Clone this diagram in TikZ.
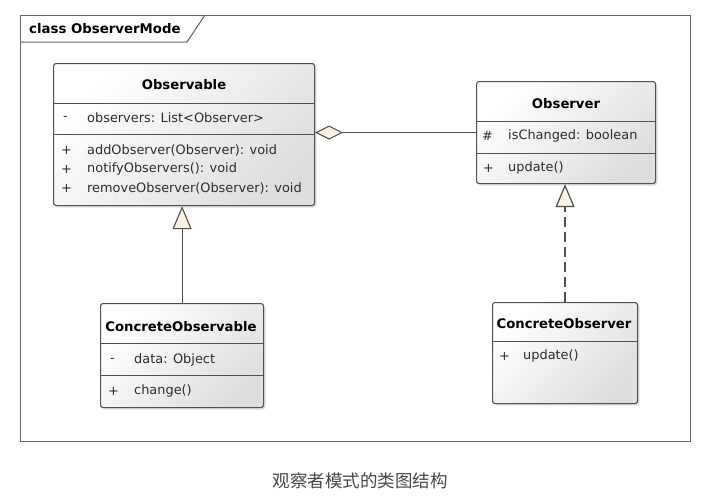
\documentclass[tikz,border=0pt]{standalone}
\usepackage{fontspec}
\setmainfont{DejaVu Sans}
\newfontfamily\cjk{Noto Sans CJK SC}
\usetikzlibrary{arrows.meta,shadows}

\definecolor{boxline}{RGB}{80,80,80}
\definecolor{boxshade}{RGB}{222,222,222}
\definecolor{tipfill}{RGB}{253,243,228}
\definecolor{memtext}{RGB}{45,45,45}

\begin{document}
\begin{tikzpicture}[
		x=1pt, y=-1pt,
		umlclass/.style={rectangle, draw=boxline, line width=1.1pt, rounded corners=2.5pt,
			anchor=north west, inner sep=0pt,
			left color=white, right color=boxshade, shading angle=45,
			drop shadow={shadow xshift=2pt, shadow yshift=-2pt, opacity=0.25}},
		classname/.style={font=\fontsize{13.2}{15}\selectfont\bfseries, text=black},
		member/.style={anchor=west, inner sep=0pt, font=\fontsize{12.9}{15}\selectfont, text=memtext},
		sep/.style={draw=boxline, line width=1pt}
	]
  \useasboundingbox (0,0) rectangle (719,499);

  % frame
  \node (frame) [rectangle, draw=black!60, line width=1pt, anchor=north west, minimum width=670pt, minimum height=426pt, inner sep=0pt] at (20,15) {};
  \draw [draw=black!60, line width=1pt] (20,42) -- (187,42) -- (205,15);
  \node (framename) [anchor=west, inner sep=0pt, font=\fontsize{13.3}{15}\selectfont\bfseries] at (29,29) {class ObserverMode};

  % classes
  \node (observable) [umlclass, minimum width=261pt, minimum height=142pt] at (53,63) {};
  \draw [sep] ([yshift=-40pt]observable.north west) -- ([yshift=-40pt]observable.north east);
  \draw [sep] ([yshift=-71pt]observable.north west) -- ([yshift=-71pt]observable.north east);
  \node (observable_t) [classname] at (184,85) {Observable};
  \node (observable_v1) [member] at (63,118) {-};
  \node (observable_a1) [member] at (87,118) {observers: List<Observer>};
  \node (observable_v2) [member] at (61,150) {+};
  \node (observable_m1) [member] at (87,150) {addObserver(Observer): void};
  \node (observable_v3) [member] at (61,169) {+};
  \node (observable_m2) [member] at (87,169) {notifyObservers(): void};
  \node (observable_v4) [member] at (61,188) {+};
  \node (observable_m3) [member] at (87,188) {removeObserver(Observer): void};

  \node (observer) [umlclass, minimum width=179pt, minimum height=102pt] at (476,81) {};
  \draw [sep] ([yshift=-40pt]observer.north west) -- ([yshift=-40pt]observer.north east);
  \draw [sep] ([yshift=-72pt]observer.north west) -- ([yshift=-72pt]observer.north east);
  \node (observer_t) [classname] at (566,104) {Observer};
  \node (observer_v1) [member] at (482,136) {\#};
  \node (observer_a1) [member] at (508,136) {isChanged: boolean};
  \node (observer_v2) [member] at (483,168) {+};
  \node (observer_m1) [member] at (508,168) {update()};

  \node (concobservable) [umlclass, minimum width=163pt, minimum height=104pt] at (100,303) {};
  \draw [sep] ([yshift=-40pt]concobservable.north west) -- ([yshift=-40pt]concobservable.north east);
  \draw [sep] ([yshift=-72pt]concobservable.north west) -- ([yshift=-72pt]concobservable.north east);
  \node (concobservable_t) [classname] at (181,327) {ConcreteObservable};
  \node (concobservable_v1) [member] at (110,360) {-};
  \node (concobservable_a1) [member] at (134,360) {data: Object};
  \node (concobservable_v2) [member] at (108,391) {+};
  \node (concobservable_m1) [member] at (134,391) {change()};

  \node (concobserver) [umlclass, minimum width=145pt, minimum height=101pt] at (492,302) {};
  \draw [sep] ([yshift=-39pt]concobserver.north west) -- ([yshift=-39pt]concobserver.north east);
  \node (concobserver_t) [classname] at (564,324) {ConcreteObserver};
  \node (concobserver_v1) [member] at (499,356) {+};
  \node (concobserver_m1) [member] at (523,356) {update()};

  % relations
  \draw [draw=boxline, line width=1.1pt, -{Diamond[length=28pt, width=14pt, fill=tipfill]}]
    (observer.west) -- (observable.east |- observer.west);
  \draw [draw=boxline, line width=1.1pt, -{Triangle[length=23pt, width=19pt, fill=tipfill]}]
    (concobservable.north) -- (concobservable.north |- observable.south);
  \draw [draw=boxline, line width=1.2pt, dash pattern=on 10pt off 5pt, -{Triangle[length=23pt, width=19pt, fill=tipfill]}]
    (concobserver.north) -- (concobserver.north |- observer.south);

  % caption
  \node (caption) [font=\cjk\fontsize{17.5}{19}\selectfont, text=black!72] at (360,481) {观察者模式的类图结构};
\end{tikzpicture}
\end{document}
